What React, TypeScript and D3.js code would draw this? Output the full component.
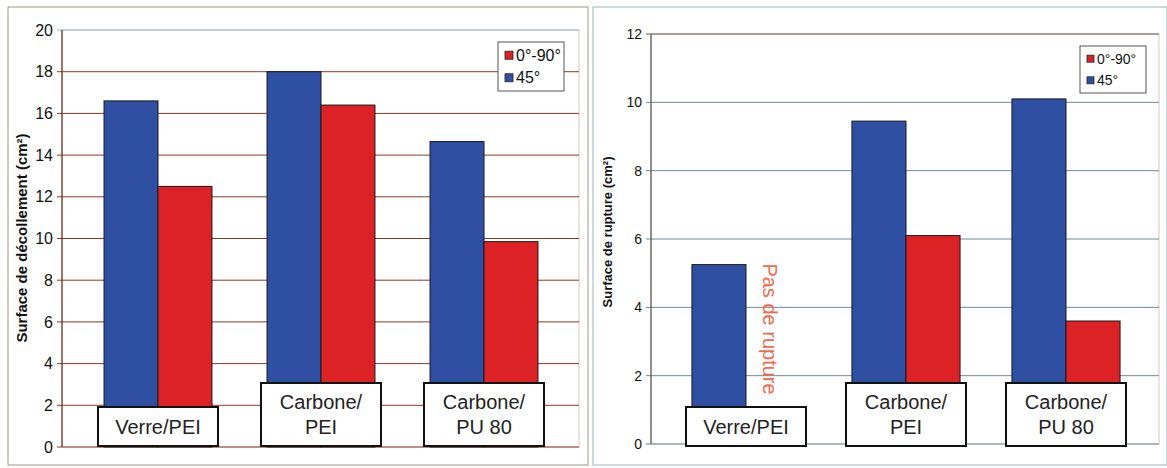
import React from "react";
import * as d3 from "d3";

const categories = ["Verre/PEI", "Carbone/PEI", "Carbone/PU 80"];
const categoryLines = [["Verre/PEI"], ["Carbone/", "PEI"], ["Carbone/", "PU 80"]];
const series = ["45°", "0°-90°"];
const decollement45 = [16.6, 18.0, 14.65];
const decollement090 = [12.5, 16.4, 9.85];
const rupture45 = [5.25, 9.45, 10.1];
const rupture090: (number | null)[] = [null, 6.1, 3.6];
const leftTicks = [0, 2, 4, 6, 8, 10, 12, 14, 16, 18, 20];
const rightTicks = [0, 2, 4, 6, 8, 10, 12];
const legendOrder = ["0°-90°", "45°"];

const BLUE = "#2F4FA2";
const RED = "#DD2226";
const colorOf: Record<string, string> = { "45°": BLUE, "0°-90°": RED };

type PanelProps = {
  x0: number; x1: number; y0: number; y1: number;
  bandRange: [number, number]; outerPad: number;
  domainMax: number; ticks: number[];
  v45: (number | null)[]; v090: (number | null)[];
  gridColor: string; topColor: string; axisColor: string;
  tickFont: number; tickX: number;
  yLabel: string; yLabelX: number; yLabelY: number; yLabelFont: number;
  boxTop1: number; boxTop2: number; boxBottom: number;
  legend: { x: number; y: number; w: number; h: number; font: number; sw: number };
};

function Panel(p: PanelProps) {
  const y = d3.scaleLinear().domain([0, p.domainMax]).range([p.y1, p.y0]);
  const xb = d3.scaleBand<string>().domain(categories).range(p.bandRange).paddingInner(0).paddingOuter(0);
  const inner = d3.scaleBand<string>().domain(series).range([0, xb.bandwidth()]).paddingInner(0).paddingOuter(p.outerPad);
  const values: Record<string, (number | null)[]> = { "45°": p.v45, "0°-90°": p.v090 };
  return (
    <g>
      <rect x={p.x0} y={p.y0} width={p.x1 - p.x0} height={p.y1 - p.y0} fill="#fff" stroke="#d8c8c4" strokeWidth={1} />
      {p.ticks.map((t, i) => (
        <g key={"t" + t}>
          <line x1={p.x0 - 5} x2={p.x1} y1={y(t)} y2={y(t)}
            stroke={i === p.ticks.length - 1 ? p.topColor : p.gridColor} strokeWidth={1} />
          <text x={p.tickX} y={y(t)} dy="0.35em" textAnchor="end" fontSize={p.tickFont}
            fontFamily="Liberation Sans, Arial, sans-serif" fill="#111">{t}</text>
        </g>
      ))}
      <line x1={p.x0} x2={p.x0} y1={p.y0} y2={p.y1} stroke={p.axisColor} strokeWidth={1.2} />
      {categories.map((c, ci) =>
        series.map((s) => {
          const v = values[s][ci];
          if (v == null) return null;
          const bx = (xb(c) as number) + (inner(s) as number);
          return (
            <rect key={c + s} x={bx} y={y(v)} width={inner.bandwidth()} height={p.y1 - y(v)}
              fill={colorOf[s]} stroke="#1a1a1a" strokeWidth={1} />
          );
        })
      )}
      {categories.map((c, ci) => {
        const cx = (xb(c) as number) + xb.bandwidth() / 2;
        const lines = categoryLines[ci];
        const top = lines.length === 1 ? p.boxTop1 : p.boxTop2;
        return (
          <g key={"lab" + c}>
            <rect x={cx - 60} y={top} width={120} height={p.boxBottom - top} fill="#fff" stroke="#111" strokeWidth={2} />
            {lines.map((l, li) => (
              <text key={l} x={cx} y={lines.length === 1 ? (top + p.boxBottom) / 2 : top + 19 + li * 25}
                dy="0.35em" textAnchor="middle" fontSize={20} fontFamily="Liberation Sans, Arial, sans-serif" fill="#222">{l}</text>
            ))}
          </g>
        );
      })}
      <text transform={`translate(${p.yLabelX},${p.yLabelY}) rotate(-90)`} textAnchor="middle"
        fontSize={p.yLabelFont} fontWeight="bold" fontFamily="Liberation Sans, Arial, sans-serif" fill="#111">{p.yLabel}</text>
      <g>
        <rect x={p.legend.x} y={p.legend.y} width={p.legend.w} height={p.legend.h} fill="#fff" stroke="#555" strokeWidth={1} />
        {legendOrder.map((s, i) => {
          const cy = p.legend.y + p.legend.h * (i === 0 ? 0.27 : 0.73);
          return (
            <g key={"lg" + s}>
              <rect x={p.legend.x + 7} y={cy - p.legend.sw / 2} width={p.legend.sw} height={p.legend.sw} fill={colorOf[s]} stroke="#222" strokeWidth={0.8} />
              <text x={p.legend.x + 10 + p.legend.sw} y={cy} dy="0.35em" fontSize={p.legend.font}
                fontFamily="Liberation Sans, Arial, sans-serif" fill="#111">{s}</text>
            </g>
          );
        })}
      </g>
    </g>
  );
}

export default function App() {
  return (
    <svg width={1167} height={468} style={{ position: "absolute", left: 0, top: 0, background: "#fff" }}>
      <rect x={0} y={0} width={1167} height={468} fill="#fff" />
      <rect x={8} y={7} width={580} height={458} fill="#fff" stroke="#a89088" strokeWidth={1} />
      <rect x={593} y={7} width={574} height={458} fill="#fff" stroke="#9ab4bc" strokeWidth={1} />
      <Panel x0={62} x1={579} y0={30} y1={447} bandRange={[76.5, 565.5]} outerPad={0.51} domainMax={20} ticks={leftTicks}
        v45={decollement45} v090={decollement090} gridColor="#8a3a28" topColor="#9ab8c4" axisColor="#6a2a1a"
        tickFont={16} tickX={53} yLabel="Surface de décollement (cm²)" yLabelX={27} yLabelY={238} yLabelFont={15}
        boxTop1={407} boxTop2={383} boxBottom={446}
        legend={{ x: 498, y: 42, w: 66, h: 49, font: 16, sw: 8 }} />
      <Panel x0={651} x1={1159} y0={34} y1={444} bandRange={[666, 1146]} outerPad={0.48} domainMax={12} ticks={rightTicks}
        v45={rupture45} v090={rupture090} gridColor="#6d8c98" topColor="#6a5a5a" axisColor="#555"
        tickFont={14} tickX={642} yLabel="Surface de rupture (cm²)" yLabelX={612} yLabelY={232} yLabelFont={13}
        boxTop1={407} boxTop2={383} boxBottom={446}
        legend={{ x: 1080, y: 46, w: 66, h: 47, font: 14, sw: 7 }} />
      <text transform="translate(763,329) rotate(90)" textAnchor="middle" fontSize={20}
        fontFamily="Liberation Sans, Arial, sans-serif" fill="#F06A4E">Pas de rupture</text>
    </svg>
  );
}
